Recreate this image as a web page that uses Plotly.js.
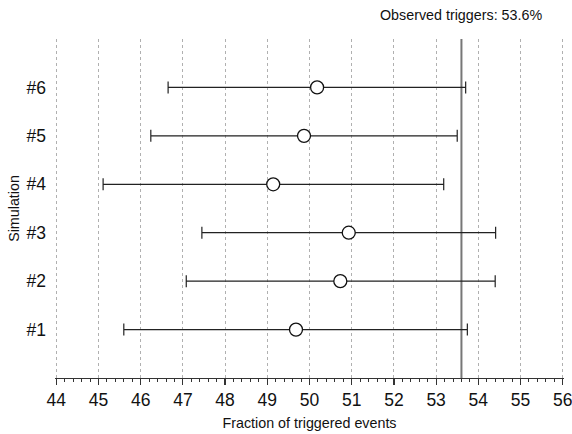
<!DOCTYPE html>
<html>
<head>
<meta charset="utf-8">
<script src="https://cdn.plot.ly/plotly-3.0.1.min.js"></script>
<style>html,body{margin:0;padding:0;background:#fff;}#chart{width:572px;height:434px;}</style>
</head>
<body>
<div id="chart"></div>
<script>
var simLabels = ['#1', '#2', '#3', '#4', '#5', '#6'];
var simPositions = [1, 2, 3, 4, 5, 6];
var centers = [49.68, 50.73, 50.93, 49.14, 49.87, 50.18];
var lowerBounds = [45.60, 47.08, 47.45, 45.11, 46.24, 46.65];
var upperBounds = [53.74, 54.40, 54.41, 53.18, 53.50, 53.70];
var observed = 53.6;
var xTicks = [44, 45, 46, 47, 48, 49, 50, 51, 52, 53, 54, 55, 56];

var errPlus = centers.map(function (c, i) { return upperBounds[i] - c; });
var errMinus = centers.map(function (c, i) { return c - lowerBounds[i]; });

var font = '"Liberation Sans", Arial, sans-serif';

var traces = [
  {
    type: 'scatter', mode: 'lines',
    x: [observed, observed], y: [0, 7],
    line: {color: '#777777', width: 2},
    hoverinfo: 'skip', showlegend: false
  },
  {
    type: 'scatter', mode: 'markers',
    x: centers, y: simPositions,
    error_x: {type: 'data', symmetric: false, array: errPlus, arrayminus: errMinus,
              color: '#222222', thickness: 1.2, width: 6},
    marker: {symbol: 'circle', size: 13, color: '#ffffff', line: {color: '#111111', width: 1.3}},
    showlegend: false
  }
];

var layout = {
  width: 572, height: 434,
  margin: {l: 55.2, r: 7.7, t: 39, b: 55.5},
  paper_bgcolor: '#ffffff', plot_bgcolor: '#ffffff',
  font: {family: font, color: '#000000'},
  showlegend: false,
  xaxis: {
    range: [43.97, 56.03], tickvals: xTicks, ticktext: xTicks.map(String),
    ticklabeloverflow: 'allow',
    showgrid: true, gridcolor: '#b0b0b0', griddash: 'dot', gridwidth: 1,
    zeroline: false, showline: true, linecolor: '#333333', linewidth: 1.2,
    ticks: 'outside', ticklen: 6, tickwidth: 1.2, tickcolor: '#333333',
    minor: {dtick: 0.2, tick0: 44, ticks: 'outside', ticklen: 3, tickwidth: 1, tickcolor: '#333333', showgrid: false},
    tickfont: {size: 17.5, family: font, color: '#111111'},
    title: {text: 'Fraction of triggered events', font: {size: 14.3, family: font, color: '#111111'}, standoff: 8},
    fixedrange: true
  },
  yaxis: {
    range: [0, 7], tickvals: simPositions, ticktext: simLabels,
    showgrid: false, zeroline: false, showline: false, ticks: '',
    ticklabelstandoff: 8,
    tickfont: {size: 17.5, family: font, color: '#111111'},
    title: {text: 'Simulation', font: {size: 14.3, family: font, color: '#111111'}, standoff: 3},
    fixedrange: true
  },
  annotations: [{
    xref: 'paper', yref: 'paper', x: (544 - 55.2) / 509.1, y: 1.072,
    xanchor: 'right', yanchor: 'middle', showarrow: false,
    text: 'Observed triggers: 53.6%', font: {size: 14.3, family: font, color: '#111111'}
  }]
};

Plotly.newPlot('chart', traces, layout, {displayModeBar: false, staticPlot: true});
</script>
</body>
</html>
